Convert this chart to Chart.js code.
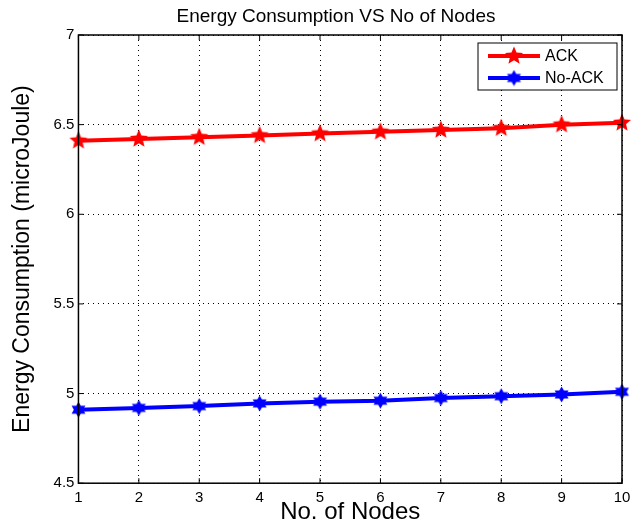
<!DOCTYPE html>
<html>
<head>
<meta charset="utf-8">
<script src="https://cdn.jsdelivr.net/npm/chart.js@4/dist/chart.umd.min.js"></script>
<style>
  html, body { margin: 0; padding: 0; background: #fff; }
  #wrap { width: 632px; height: 521px; }
</style>
</head>
<body>
<div id="wrap"><canvas id="energyChart" width="632" height="521"></canvas></div>
<script>
const nodes = [1, 2, 3, 4, 5, 6, 7, 8, 9, 10];
const ackEnergy = [6.41, 6.42, 6.43, 6.44, 6.45, 6.46, 6.47, 6.48, 6.50, 6.51];
const noAckEnergy = [4.91, 4.92, 4.93, 4.945, 4.955, 4.96, 4.975, 4.985, 4.995, 5.01];
const yTicks = [4.5, 5, 5.5, 6, 6.5, 7];
const chartTitle = "Energy Consumption VS No of Nodes";

const FONT = "'Liberation Sans', Arial, Helvetica, sans-serif";

// star markers: 5 points for ACK, 6 points for No-ACK
function starMarker(points, color, size, inner) {
  const c = document.createElement("canvas");
  c.width = size; c.height = size;
  const g = c.getContext("2d");
  const r = size / 2 - 0.5, cx = size / 2, cy = size / 2;
  g.beginPath();
  for (let i = 0; i < points * 2; i++) {
    const rad = i % 2 === 0 ? r : r * inner;
    const a = -Math.PI / 2 + i * Math.PI / points;
    const px = cx + rad * Math.cos(a), py = cy + rad * Math.sin(a);
    if (i === 0) g.moveTo(px, py); else g.lineTo(px, py);
  }
  g.closePath();
  g.fillStyle = color;
  g.fill();
  return c;
}

const redStar = starMarker(5, "#ff0000", 20, 0.45);
const blueStar = starMarker(6, "#0000ff", 17, 0.58);

// title, frame, inward ticks and legend box
const framePlugin = {
  id: "frame",
  afterDraw(chart) {
    const { ctx, chartArea: a, scales } = chart;
    ctx.save();

    ctx.fillStyle = "#000";
    ctx.font = "19px " + FONT;
    ctx.textAlign = "center";
    ctx.textBaseline = "middle";
    ctx.fillText(chartTitle, 336, 17);
    ctx.textAlign = "left";

    ctx.strokeStyle = "#000";
    ctx.lineWidth = 1.5;
    ctx.setLineDash([]);
    ctx.strokeRect(a.left, a.top, a.right - a.left, a.bottom - a.top);

    ctx.lineWidth = 1;
    ctx.beginPath();
    nodes.forEach(n => {
      const x = scales.x.getPixelForValue(n);
      ctx.moveTo(x, a.bottom); ctx.lineTo(x, a.bottom - 5);
      ctx.moveTo(x, a.top); ctx.lineTo(x, a.top + 5);
    });
    yTicks.forEach(v => {
      const y = scales.y.getPixelForValue(v);
      ctx.moveTo(a.left, y); ctx.lineTo(a.left + 5, y);
      ctx.moveTo(a.right, y); ctx.lineTo(a.right - 5, y);
    });
    ctx.stroke();

    // legend
    const lx = a.right - 144, ly = a.top + 8, lw = 139, lh = 47;
    ctx.fillStyle = "#fff";
    ctx.fillRect(lx, ly, lw, lh);
    ctx.strokeStyle = "#000";
    ctx.lineWidth = 1;
    ctx.strokeRect(lx, ly, lw, lh);
    const entries = [
      { label: "ACK", color: "#ff0000", marker: redStar },
      { label: "No-ACK", color: "#0000ff", marker: blueStar }
    ];
    entries.forEach((e, i) => {
      const y = ly + 13 + i * 22;
      ctx.strokeStyle = e.color;
      ctx.lineWidth = 4;
      ctx.beginPath();
      ctx.moveTo(lx + 10, y); ctx.lineTo(lx + 62, y);
      ctx.stroke();
      ctx.drawImage(e.marker, lx + 36 - e.marker.width / 2, y - e.marker.height / 2);
      ctx.fillStyle = "#000";
      ctx.font = "16px " + FONT;
      ctx.textBaseline = "middle";
      ctx.fillText(e.label, lx + 67, y + 1);
    });
    ctx.restore();
  }
};

new Chart(document.getElementById("energyChart"), {
  type: "line",
  data: {
    labels: nodes,
    datasets: [
      {
        label: "ACK",
        data: nodes.map((n, i) => ({ x: n, y: ackEnergy[i] })),
        borderColor: "#ff0000",
        borderWidth: 4,
        pointStyle: redStar,
        pointRadius: 10,
        tension: 0,
        clip: false
      },
      {
        label: "No-ACK",
        data: nodes.map((n, i) => ({ x: n, y: noAckEnergy[i] })),
        borderColor: "#0000ff",
        borderWidth: 4,
        pointStyle: blueStar,
        pointRadius: 8,
        tension: 0,
        clip: false
      }
    ]
  },
  options: {
    responsive: false,
    animation: false,
    layout: { autoPadding: false, padding: { left: 9, right: 10, top: 35, bottom: 0 } },
    plugins: {
      legend: { display: false },
      tooltip: { enabled: false },
      title: { display: false }
    },
    scales: {
      x: {
        type: "linear",
        min: 1,
        max: 10,
        // let the "10" label hang into the margin instead of shrinking the plot
        afterFit(scale) {
          scale.paddingRight = 0;
        },
        ticks: {
          stepSize: 1,
          color: "#000",
          font: { family: FONT, size: 15 },
          padding: 6
        },
        grid: { color: "#000", lineWidth: 1, drawTicks: false },
        border: { display: false, dash: [1, 4] },
        title: {
          display: true,
          text: "No. of Nodes",
          color: "#000",
          font: { family: FONT, size: 24 },
          padding: { top: -15, bottom: -6 }
        }
      },
      y: {
        min: 4.5,
        max: 7,
        afterBuildTicks(scale) {
          scale.ticks = yTicks.map(v => ({ value: v }));
        },
        ticks: {
          color: "#000",
          font: { family: FONT, size: 15 },
          padding: 4,
          callback: v => String(v)
        },
        grid: { color: "#000", lineWidth: 1, drawTicks: false },
        border: { display: false, dash: [1, 4] },
        title: {
          display: true,
          text: "Energy Consumption (microJoule)",
          color: "#000",
          font: { family: FONT, size: 23 },
          padding: { top: 0, bottom: 13 }
        }
      }
    }
  },
  plugins: [framePlugin]
});
</script>
</body>
</html>
